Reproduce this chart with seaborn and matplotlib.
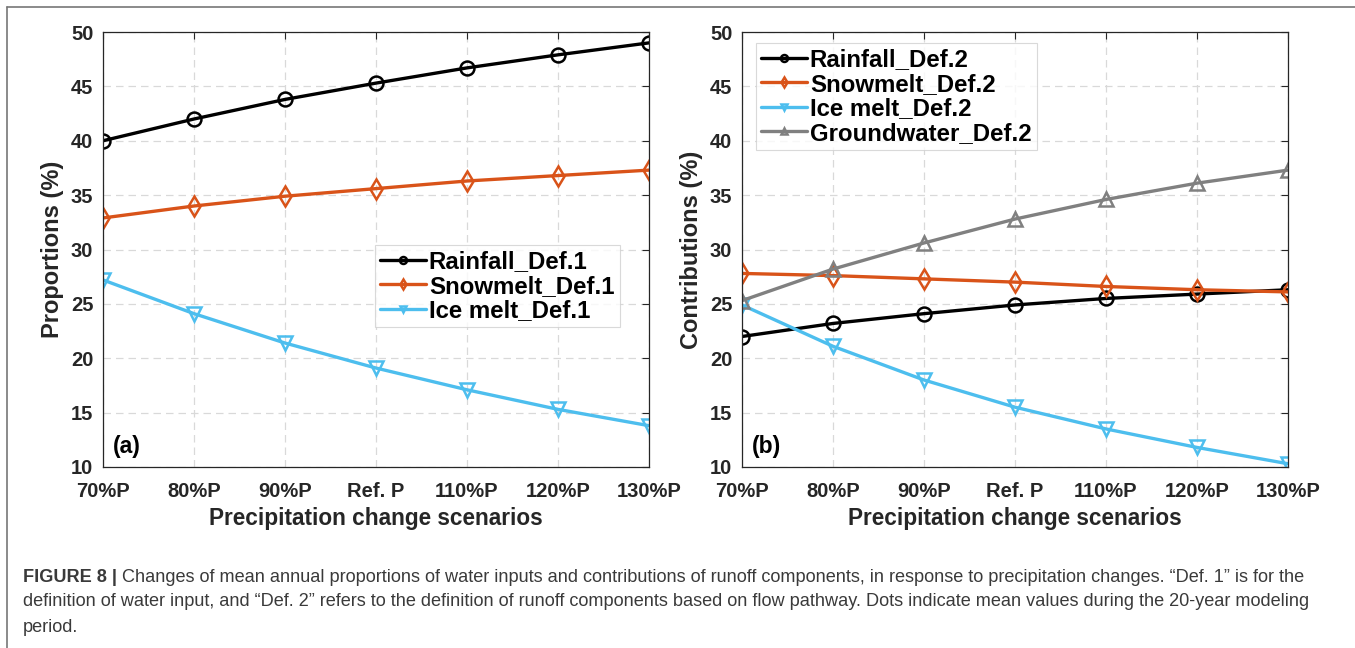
import numpy as np
import pandas as pd
import matplotlib
matplotlib.use("Agg")
import matplotlib.pyplot as plt
import seaborn as sns
from matplotlib.lines import Line2D

# ---- data ----
scenarios = ["70%P", "80%P", "90%P", "Ref. P", "110%P", "120%P", "130%P"]

rain_def1 = [40.0, 42.0, 43.8, 45.3, 46.7, 47.9, 49.0]
snow_def1 = [32.9, 34.0, 34.9, 35.6, 36.3, 36.8, 37.3]
ice_def1 = [27.2, 24.1, 21.4, 19.1, 17.1, 15.3, 13.8]

rain_def2 = [22.0, 23.2, 24.1, 24.9, 25.5, 25.9, 26.3]
snow_def2 = [27.8, 27.6, 27.3, 27.0, 26.6, 26.3, 26.1]
ice_def2 = [24.9, 21.1, 18.0, 15.5, 13.5, 11.8, 10.3]
gw_def2 = [25.3, 28.2, 30.6, 32.8, 34.6, 36.1, 37.3]

yticks = [10, 15, 20, 25, 30, 35, 40, 45, 50]

caption_bold = "FIGURE 8 | "
caption_lines = [
    "Changes of mean annual proportions of water inputs and contributions of runoff components, in response to precipitation changes. \u201cDef. 1\u201d is for the",
    "definition of water input, and \u201cDef. 2\u201d refers to the definition of runoff components based on flow pathway. Dots indicate mean values during the 20-year modeling",
    "period.",
]

BLACK = "#000000"
ORANGE = "#D95319"
BLUE = "#4DBEEE"
GRAY = "#808080"

sns.set_theme(style="white")
plt.rcParams["font.family"] = ["Liberation Sans", "DejaVu Sans"]
plt.rcParams["font.weight"] = "bold"

W, H = 1355, 648
fig = plt.figure(figsize=(W / 100, H / 100), dpi=100)

def fx(px):
    return px / W

def fy(py):
    return 1 - py / H

ax_top, ax_bot = 32, 467
axL = fig.add_axes([fx(103), fy(ax_bot), fx(649) - fx(103), fy(ax_top) - fy(ax_bot)])
axR = fig.add_axes([fx(742), fy(ax_bot), fx(1288) - fx(742), fy(ax_top) - fy(ax_bot)])

xs = list(range(len(scenarios)))

def draw(ax, y, color, marker, label, ms=10):
    sns.lineplot(x=xs, y=y, ax=ax, color=color, marker=marker, markersize=ms,
                 markerfacecolor="none", markeredgecolor=color, markeredgewidth=1.8,
                 linewidth=2.4, label=label, sort=False)

draw(axL, rain_def1, BLACK, "o", "Rainfall_Def.1")
draw(axL, snow_def1, ORANGE, "d", "Snowmelt_Def.1")
draw(axL, ice_def1, BLUE, "v", "Ice melt_Def.1")

draw(axR, rain_def2, BLACK, "o", "Rainfall_Def.2")
draw(axR, snow_def2, ORANGE, "d", "Snowmelt_Def.2")
draw(axR, ice_def2, BLUE, "v", "Ice melt_Def.2")
draw(axR, gw_def2, GRAY, "^", "Groundwater_Def.2")

for ax, ylab, tag in [(axL, "Proportions (%)", "(a)"), (axR, "Contributions (%)", "(b)")]:
    ax.set_xlim(0, len(scenarios) - 1)
    ax.set_ylim(10, 50)
    ax.set_xticks(xs)
    ax.set_xticklabels(scenarios)
    ax.set_yticks(yticks)
    ax.grid(True, linestyle=(0, (6, 4)), color="#d9d9d9", linewidth=0.9)
    ax.tick_params(axis="both", direction="in", length=5, width=0.8, colors="#262626",
                   labelsize=14.5, top=True, right=True)
    ax.tick_params(axis="x", pad=11)
    ax.tick_params(axis="y", pad=7)
    for lab in ax.get_xticklabels() + ax.get_yticklabels():
        lab.set_fontweight("bold")
    for s in ax.spines.values():
        s.set_color("#262626")
        s.set_linewidth(0.9)
    ax.set_xlabel("Precipitation change scenarios", fontsize=16.3, fontweight="bold",
                  color="#262626", labelpad=4)
    ax.set_ylabel(ylab, fontsize=17, fontweight="bold", color="#262626", labelpad=5)
    ax.text(0.018, 0.02, tag, transform=ax.transAxes, fontsize=16.5, fontweight="bold",
            color="#000000", ha="left", va="bottom")

leg_kw = dict(fontsize=17.3, frameon=True, fancybox=False, edgecolor="#d0d0d0",
              handlelength=1.9, handletextpad=0.12, borderpad=0.22, labelspacing=0.06,
              markerscale=0.5, borderaxespad=0, loc="upper left")
legL = axL.legend(bbox_to_anchor=((375 - 103) / (649 - 103), (ax_bot - 245) / (ax_bot - ax_top)), **leg_kw)
legR = axR.legend(bbox_to_anchor=((756 - 742) / (1288 - 742), (ax_bot - 43) / (ax_bot - ax_top)), **leg_kw)
for leg in (legL, legR):
    leg.get_frame().set_linewidth(0.8)
    for t in leg.get_texts():
        t.set_fontweight("bold")
        t.set_color("#000000")

# figure frame (left and top)
fig.add_artist(Line2D([fx(7), fx(7)], [0, fy(7)], color="#777777", linewidth=1.2))
fig.add_artist(Line2D([fx(7), 1], [fy(7), fy(7)], color="#777777", linewidth=1.2))

# caption
cap_y = [577, 602, 628]
CAP_FS = 13.1
t0 = fig.text(fx(23), fy(cap_y[0]), caption_bold, fontsize=CAP_FS, fontweight="bold",
              color="#3a3a3a", va="center", ha="left")
fig.canvas.draw()
bb = t0.get_window_extent()
fig.text(bb.x1 / W, fy(cap_y[0]), caption_lines[0], fontsize=CAP_FS, fontweight="normal",
         color="#3a3a3a", va="center", ha="left")
for i in (1, 2):
    fig.text(fx(23), fy(cap_y[i]), caption_lines[i], fontsize=CAP_FS, fontweight="normal",
             color="#3a3a3a", va="center", ha="left")

fig.savefig("out.png", dpi=100)
